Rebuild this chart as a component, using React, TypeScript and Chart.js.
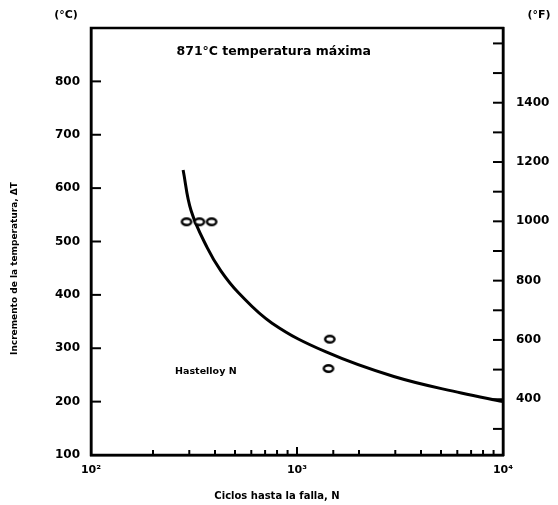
import React, { useEffect, useRef } from 'react';
import { Chart, registerables } from 'chart.js';

Chart.register(...registerables);

// Fitted curve
const curveCycles = [280, 306, 367, 427, 520, 757, 1384, 2951, 6270, 10000];
const curveDeltaT = [634, 558, 488, 445, 404, 347, 293, 247, 216, 200];
// Test points
const testCycles = [291, 336, 385, 1443, 1422];
const testDeltaT = [537, 537, 537, 317, 262];
// Axis labels
const celsiusLabels = [100, 200, 300, 400, 500, 600, 700, 800];
const fahrenheitLabels = [400, 600, 800, 1000, 1200, 1400];
const decadeLabels: Record<number, string> = { 100: '10²', 1000: '10³', 10000: '10⁴' };
const materialLabel = 'Hastelloy N';
const noteLabel = '871°C temperatura máxima';
const xTitle = 'Ciclos hasta la falla, N';
const yTitle = 'Incremento de la temperatura, ΔT';
const unitC = '(°C)';
const unitF = '(°F)';

const FONT = 'DejaVu Sans';
const cToF = (c: number) => (c * 9) / 5 + 32;

function makeRing(): HTMLCanvasElement {
  const c = document.createElement('canvas');
  c.width = 14;
  c.height = 11;
  const g = c.getContext('2d')!;
  g.fillStyle = '#fff';
  g.strokeStyle = '#000';
  g.lineWidth = 2.4;
  g.beginPath();
  g.ellipse(7, 5.5, 4.7, 3.3, 0, 0, Math.PI * 2);
  g.fill();
  g.stroke();
  return c;
}

const framePlugin = {
  id: 'framePlugin',
  afterDatasetsDraw(chart: any) {
    const { ctx, chartArea: a, scales } = chart;
    ctx.save();
    ctx.strokeStyle = '#000';
    ctx.lineCap = 'butt';
    ctx.lineWidth = 2.5;
    ctx.strokeRect(a.left, a.top, a.right - a.left, a.bottom - a.top);
    const line = (x1: number, y1: number, x2: number, y2: number) => {
      ctx.beginPath();
      ctx.moveTo(x1, y1);
      ctx.lineTo(x2, y2);
      ctx.stroke();
    };
    ctx.lineWidth = 2;
    scales.y.ticks.forEach((t: any) => {
      const p = scales.y.getPixelForValue(t.value);
      line(a.left, p, a.left + 10, p);
    });
    scales.yF.ticks.forEach((t: any) => {
      const p = scales.yF.getPixelForValue(t.value);
      line(a.right, p, a.right - 10, p);
    });
    scales.x.ticks.forEach((t: any) => {
      const p = scales.x.getPixelForValue(t.value);
      const major = decadeLabels[t.value] !== undefined;
      line(p, a.bottom, p, a.bottom - (major ? 8 : 5));
    });

    ctx.fillStyle = '#000';
    ctx.textBaseline = 'middle';
    // units
    ctx.font = `bold 11px ${FONT}`;
    ctx.textAlign = 'center';
    ctx.fillText(unitC, a.left - 25, a.top - 13);
    ctx.fillText(unitF, a.right + 36, a.top - 13);
    // note
    ctx.font = `bold 12.5px ${FONT}`;
    ctx.textAlign = 'left';
    ctx.fillText(noteLabel, scales.x.getPixelForValue(260), scales.y.getPixelForValue(855));
    // material
    ctx.font = `bold 9.5px ${FONT}`;
    ctx.fillText(materialLabel, scales.x.getPixelForValue(256), scales.y.getPixelForValue(257));
    // x title
    ctx.font = `bold 10px ${FONT}`;
    ctx.textAlign = 'center';
    ctx.fillText(xTitle, (a.left + a.right) / 2 - 20, a.bottom + 41);
    // y title
    ctx.save();
    ctx.translate(15, (a.top + a.bottom) / 2 + 27);
    ctx.rotate(-Math.PI / 2);
    ctx.font = `bold 9px ${FONT}`;
    ctx.fillText(yTitle, 0, 0);
    ctx.restore();
    ctx.restore();
  },
};

export default function App() {
  const ref = useRef<HTMLCanvasElement>(null);
  useEffect(() => {
    if (!ref.current) return;
    const ring = makeRing();
    const tickFont = { family: FONT, weight: 'bold' as const, size: 12 };
    const chart = new Chart(ref.current, {
      type: 'scatter',
      data: {
        datasets: [
          {
            label: 'points',
            data: testCycles.map((x, i) => ({ x, y: testDeltaT[i] })),
            pointStyle: ring as any,
            pointRadius: 6,
            showLine: false,
            order: 0,
          },
          {
            label: 'curve',
            data: curveCycles.map((x, i) => ({ x, y: curveDeltaT[i] })),
            showLine: true,
            borderColor: '#000',
            borderWidth: 3,
            pointRadius: 0,
            tension: 0.4,
            order: 1,
          },
        ],
      },
      options: {
        animation: false,
        responsive: false,
        layout: { padding: { top: 28, left: 0, right: 0, bottom: 0 } },
        plugins: { legend: { display: false }, tooltip: { enabled: false } },
        scales: {
          x: {
            type: 'logarithmic',
            min: 100,
            max: 10000,
            grid: { display: false, drawTicks: false },
            border: { display: true, color: '#000', width: 2.5 },
            afterFit: (s: any) => {
              s.height = 50;
            },
            ticks: {
              autoSkip: false,
              maxRotation: 0,
              padding: 9,
              color: '#000',
              font: { family: FONT, weight: 'bold', size: 11 },
              callback: (v: any) => decadeLabels[Number(v)] ?? '',
            },
          },
          y: {
            type: 'linear',
            position: 'left',
            min: 100,
            max: 900,
            grid: { display: false, drawTicks: false },
            border: { display: true, color: '#000', width: 2.5 },
            afterFit: (s: any) => {
              s.width = 91;
            },
            ticks: {
              stepSize: 100,
              padding: 11,
              color: '#000',
              font: tickFont,
              callback: (v: any) => (celsiusLabels.includes(Number(v)) ? String(v) : ''),
            },
          },
          yF: {
            type: 'linear',
            position: 'right',
            min: cToF(100),
            max: cToF(900),
            grid: { display: false, drawTicks: false },
            border: { display: true, color: '#000', width: 2.5 },
            afterFit: (s: any) => {
              s.width = 55;
            },
            ticks: {
              stepSize: 100,
              includeBounds: false,
              autoSkip: false,
              padding: 13,
              color: '#000',
              font: tickFont,
              callback: (v: any) => (fahrenheitLabels.includes(Number(v)) ? String(v) : ''),
            },
          },
        },
      } as any,
      plugins: [framePlugin],
    });
    return () => chart.destroy();
  }, []);
  return (
    <div style={{ position: 'absolute', left: 0, top: 0, width: 558, height: 505, background: '#fff' }}>
      <canvas ref={ref} width={558} height={505} style={{ display: 'block' }} />
    </div>
  );
}
